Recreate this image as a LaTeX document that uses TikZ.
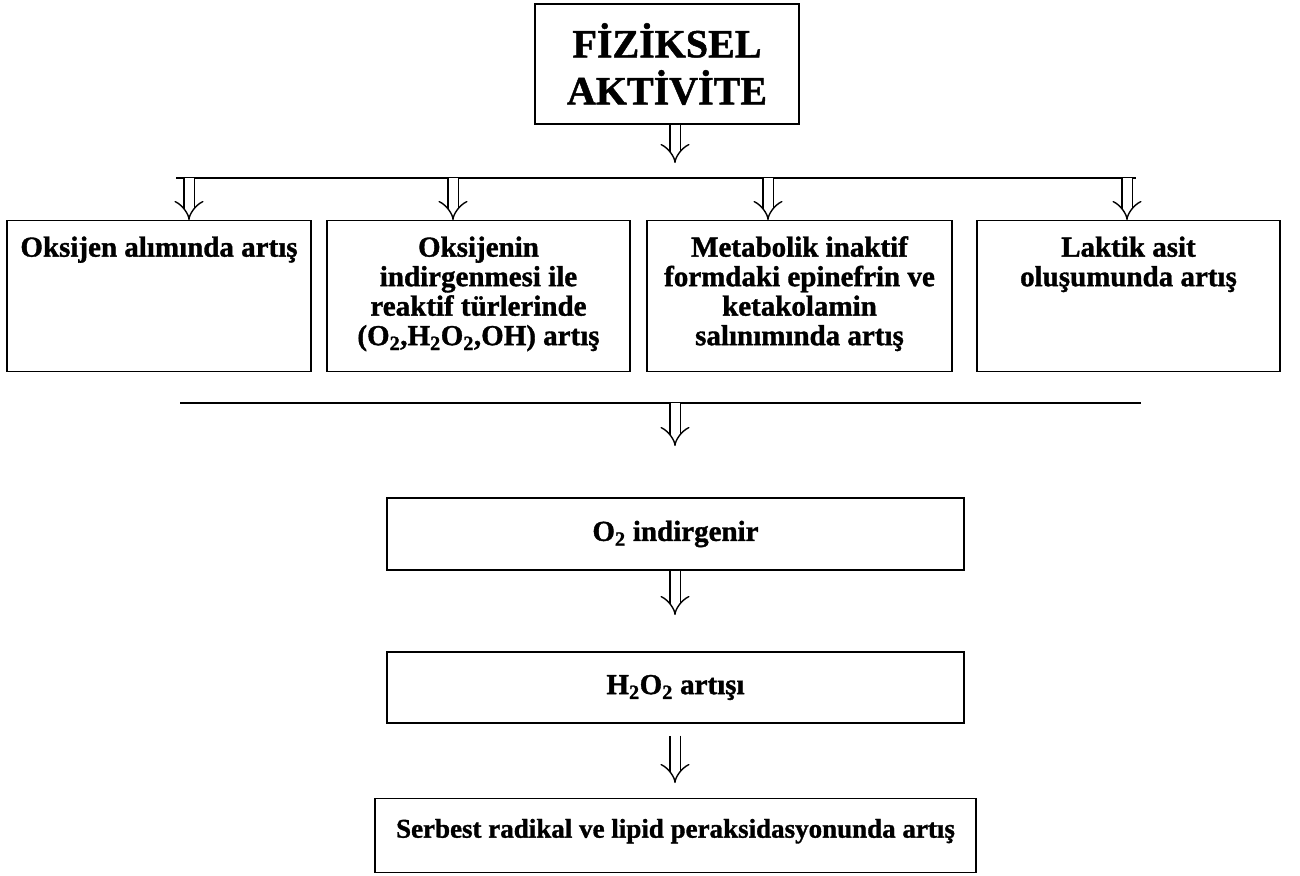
\documentclass[tikz,border=0pt]{standalone}
\usepackage{fontspec}
\setmainfont{Liberation Serif}[BoldFeatures={FakeBold=1.2}]
\usetikzlibrary{arrows.meta,positioning}

\begin{document}
\begin{tikzpicture}[x=1pt,y=-1pt,line width=1.3pt]
  \tikzstyle{kutu}=[draw, rectangle, inner sep=0pt, align=flush center, font=\bfseries\fontsize{29}{29.5}\selectfont]
  \tikzstyle{ust}=[kutu, anchor=north, text height=36pt, text depth=115pt]
  \tikzstyle{ok}=[double, double distance=9pt, line width=1.4pt, -{Implies}]
  \useasboundingbox (0,0) rectangle (1300,875);

  \node[kutu, minimum width=264pt, minimum height=120pt, font=\bfseries\fontsize{40}{47}\selectfont] (fa) at (667,64) {FİZİKSEL\\AKTİVİTE};
  \node[ust, text width=304pt] (k1) at (159,220) {Oksijen alımında artış};
  \node[ust, text width=303pt] (k2) at (478.5,220) {Oksijenin\\indirgenmesi ile\\reaktif türlerinde\\(O\textsubscript{2},H\textsubscript{2}O\textsubscript{2},OH) artış};
  \node[ust, text width=305pt] (k3) at (799.5,220) {Metabolik inaktif\\formdaki epinefrin ve\\ketakolamin\\salınımında artış};
  \node[ust, text width=303pt] (k4) at (1128.5,220) {Laktik asit\\oluşumunda artış};
  \node[kutu, minimum width=577pt, minimum height=72pt] (o2) at (675.5,534) {O\textsubscript{2} indirgenir};
  \node[kutu, minimum width=577pt, minimum height=71pt] (h2o2) at (675.5,687.5) {H\textsubscript{2}O\textsubscript{2} artışı};
  \node[kutu, anchor=north, text width=601pt, text height=39pt, text depth=35pt, font=\bfseries\fontsize{27}{28}\selectfont] (sr) at (675.5,798) {Serbest radikal ve lipid peraksidasyonunda artış};

  % yatay cizgiler
  \coordinate (l1) at (176,178);
  \coordinate (r1) at (1136,178);
  \coordinate (l2) at (180,403);
  \coordinate (r2) at (1141,403);
  \draw (l1) -- (r1);
  \draw (l2) -- (r2);

  \coordinate (u0) at (675,163);
  \draw[ok] (fa.south -| u0) -- (u0);

  \foreach \i/\x in {1/189,2/453,3/768,4/1127} {
    \coordinate (a\i) at (\x,178);
    \draw[ok] (a\i) -- (a\i |- k\i.north);
  }

  \coordinate (b0) at (675,403);
  \coordinate (u1) at (675,446);
  \draw[ok] (b0) -- (u1);

  \coordinate (u2) at (675,615);
  \draw[ok] (o2.south -| u2) -- (u2);

  \draw[ok, shorten <=12pt, shorten >=15pt] (h2o2.south -| u2) -- (sr.north -| u2);
\end{tikzpicture}
\end{document}
